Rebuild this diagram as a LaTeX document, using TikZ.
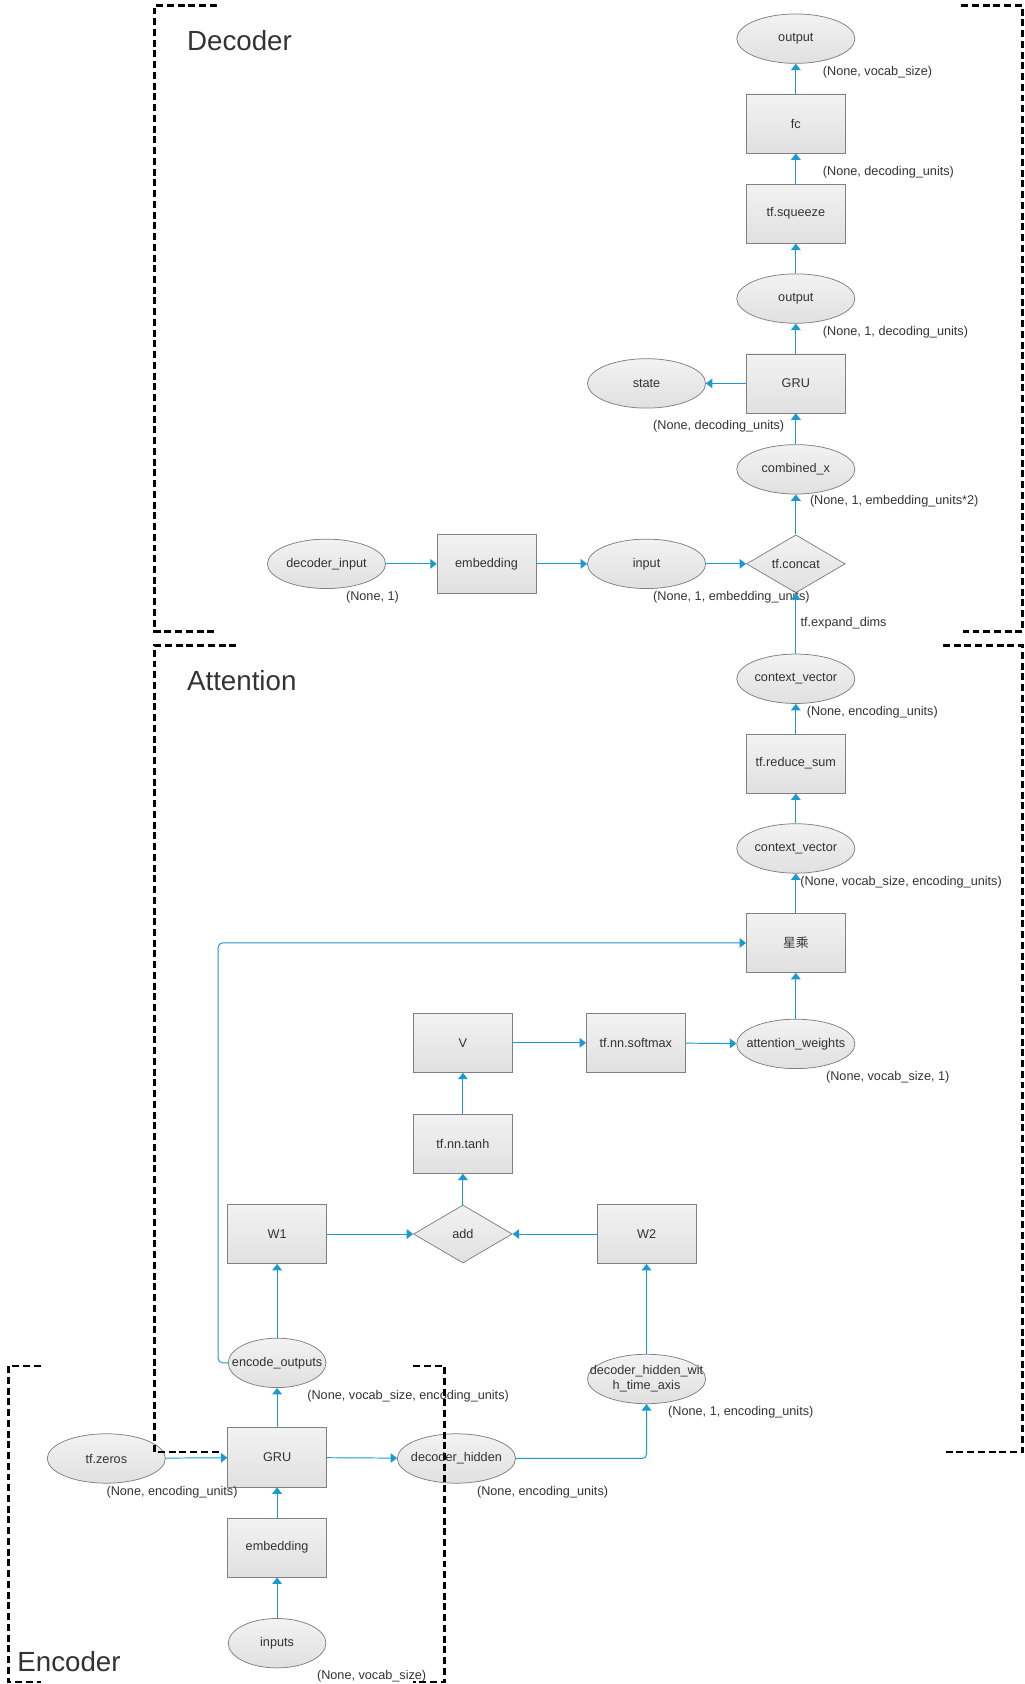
\documentclass[tikz,border=0pt]{standalone}
\usepackage{fontspec}
\setmainfont{Liberation Sans}
\newfontfamily\cjk{Noto Sans CJK SC}
\usetikzlibrary{shapes.geometric,arrows.meta}

\definecolor{edgeblue}{HTML}{1A9AD0}
\definecolor{nodeline}{HTML}{808080}
\definecolor{txt}{HTML}{333333}

\tikzset{
  base/.style={draw=nodeline, line width=0.7pt, top color=white!95!black, bottom color=white!88!black,
    text=txt, inner sep=0pt, font=\fontsize{11.8}{13}\selectfont},
  opbox/.style={base, rectangle, minimum width=92, minimum height=55},
  val/.style={base, ellipse, minimum width=110, minimum height=46},
  valsmall/.style={val, minimum width=91},
  joinop/.style={base, diamond, aspect=1.7, minimum width=92, minimum height=54},
  dim/.style={text=txt, inner sep=0pt, anchor=west, font=\fontsize{11.8}{13}\selectfont},
  title/.style={text=txt, inner sep=0pt, anchor=west, font=\fontsize{25.8}{30}\selectfont},
  arr/.style={draw=edgeblue, line width=0.9pt, -{Triangle[width=9pt,length=6pt]}},
  frame/.style={draw=black, line width=2.4pt, dash pattern=on 6.5pt off 3.5pt}
}

\begin{document}
\begin{tikzpicture}[x=1pt,y=-1pt]
\useasboundingbox (0,0) rectangle (954,1568);

% decoder
\node[title] (t_dec) at (174,38) {Decoder};
\node[val] (out) at (741,36) {output};
\node[opbox] (fc) at (741,115) {fc};
\node[opbox] (squeeze) at (741,199) {tf.squeeze};
\node[val] (gruout) at (741,278) {output};
\node[opbox] (grudec) at (741,357) {GRU};
\node[val] (state) at (602,357) {state};
\node[val] (comb) at (741,437) {combined\_x};
\node[joinop] (concat) at (741,525) {tf.concat};
\node[val] (decin) at (304,525) {decoder\_input};
\node[opbox] (embdec) at (453,525) {embedding};
\node[val] (inp) at (602,525) {input};

\node[dim] (d_out) at (766,67) {(None, vocab\_size)};
\node[dim] (d_fc) at (766,160) {(None, decoding\_units)};
\node[dim] (d_gruout) at (766,309) {(None, 1, decoding\_units)};
\node[dim] (d_state) at (608,397) {(None, decoding\_units)};
\node[dim] (d_comb) at (754,467) {(None, 1, embedding\_units*2)};
\node[dim] (d_inp) at (608,556) {(None, 1, embedding\_units)};
\node[dim] (d_decin) at (322,556) {(None, 1)};

% attention
\node[title] (t_att) at (174,634) {Attention};
\node[val] (ctx1) at (741,632) {\makebox[0pt]{context\_vector}};
\node[opbox] (rsum) at (741,711) {tf.reduce\_sum};
\node[val] (ctx2) at (741,790) {\makebox[0pt]{context\_vector}};
\node[opbox] (mul) at (741,878) {\cjk 星乘};
\node[val] (attw) at (741,972) {\makebox[0pt]{attention\_weights}};
\node[opbox] (vv) at (431,971) {V};
\node[opbox] (softmax) at (592,971) {tf.nn.softmax};
\node[opbox] (tanh) at (431,1065) {tf.nn.tanh};
\node[joinop] (add) at (431,1149) {add};
\node[opbox] (w1) at (258,1149) {W1};
\node[opbox] (w2) at (602,1149) {W2};
\node[val, align=center] (dhwta) at (602,1284) {\makebox[0pt]{decoder\_hidden\_wit}\\[1pt]\makebox[0pt]{h\_time\_axis}};

\node[dim] (d_ctx1) at (751,663) {(None, encoding\_units)};
\node[dim] (d_ctx2) at (745,821) {(None, vocab\_size, encoding\_units)};
\node[dim] (d_attw) at (769,1003) {(None, vocab\_size, 1)};
\node[dim] (d_dhwta) at (622,1315) {(None, 1, encoding\_units)};

% encoder
\node[title] (t_enc) at (16,1547) {Encoder};
\node[valsmall] (encout) at (258,1269) {\makebox[0pt]{encode\_outputs}};
\node[val] (zeros) at (99,1358) {tf.zeros};
\node[opbox] (gruenc) at (258,1357) {GRU};
\node[val] (dechid) at (425,1358) {\makebox[0pt]{decoder\_hidden}};
\node[opbox] (embenc) at (258,1441) {embedding};
\node[valsmall] (inputs) at (258,1530) {inputs};

\node[dim] (d_encout) at (286,1300) {(None, vocab\_size, encoding\_units)};
\node[dim] (d_zeros) at (99,1389) {(None, encoding\_units)};
\node[dim] (d_dechid) at (444,1389) {(None, encoding\_units)};
\node[dim] (d_inputs) at (295,1561) {(None, vocab\_size)};

% connectors
\draw[arr] (inputs) -- (embenc);
\draw[arr] (embenc) -- (gruenc);
\draw[arr] (zeros) -- (gruenc);
\draw[arr] (gruenc) -- (dechid);
\draw[arr] (gruenc) -- (encout);
\draw[arr] (encout) -- (w1);
\draw[arr, rounded corners=4pt] (encout.west) -- ++(-9,0) |- (mul.west);
\draw[arr, rounded corners=4pt] (dechid.east) -| (dhwta.south);
\draw[arr] (dhwta) -- (w2);
\draw[arr] (w1) -- (add);
\draw[arr] (w2) -- (add);
\draw[arr] (add) -- (tanh);
\draw[arr] (tanh) -- (vv);
\draw[arr] (vv) -- (softmax);
\draw[arr] (softmax) -- (attw);
\draw[arr] (attw) -- (mul);
\draw[arr] (mul) -- (ctx2);
\draw[arr] (ctx2) -- (rsum);
\draw[arr] (rsum) -- (ctx1);
\draw[arr] (ctx1) -- node[dim, pos=0.5, xshift=4pt] (l_expand) {tf.expand\_dims} (concat);
\draw[arr] (decin) -- (embdec);
\draw[arr] (embdec) -- (inp);
\draw[arr] (inp) -- (concat);
\draw[arr] (concat) -- (comb);
\draw[arr] (comb) -- (grudec);
\draw[arr] (grudec) -- (state);
\draw[arr] (grudec) -- (gruout);
\draw[arr] (gruout) -- (squeeze);
\draw[arr] (squeeze) -- (fc);
\draw[arr] (fc) -- (out);

% group frames
\draw[frame] (202,5) -- (144,5) -- (144,588) -- (202,588);
\draw[frame] (895,5) -- (952,5) -- (952,588) -- (897,588);
\draw[frame] (220,601) -- (144,601) -- (144,1352) -- (205,1352);
\draw[frame] (878,601) -- (952,601) -- (952,1352) -- (880,1352);
\draw[frame] (38,1272) -- (8,1272) -- (8,1566) -- (38,1566);
\draw[frame] (385,1272) -- (414,1272) -- (414,1566) -- (385,1566);
\end{tikzpicture}
\end{document}
